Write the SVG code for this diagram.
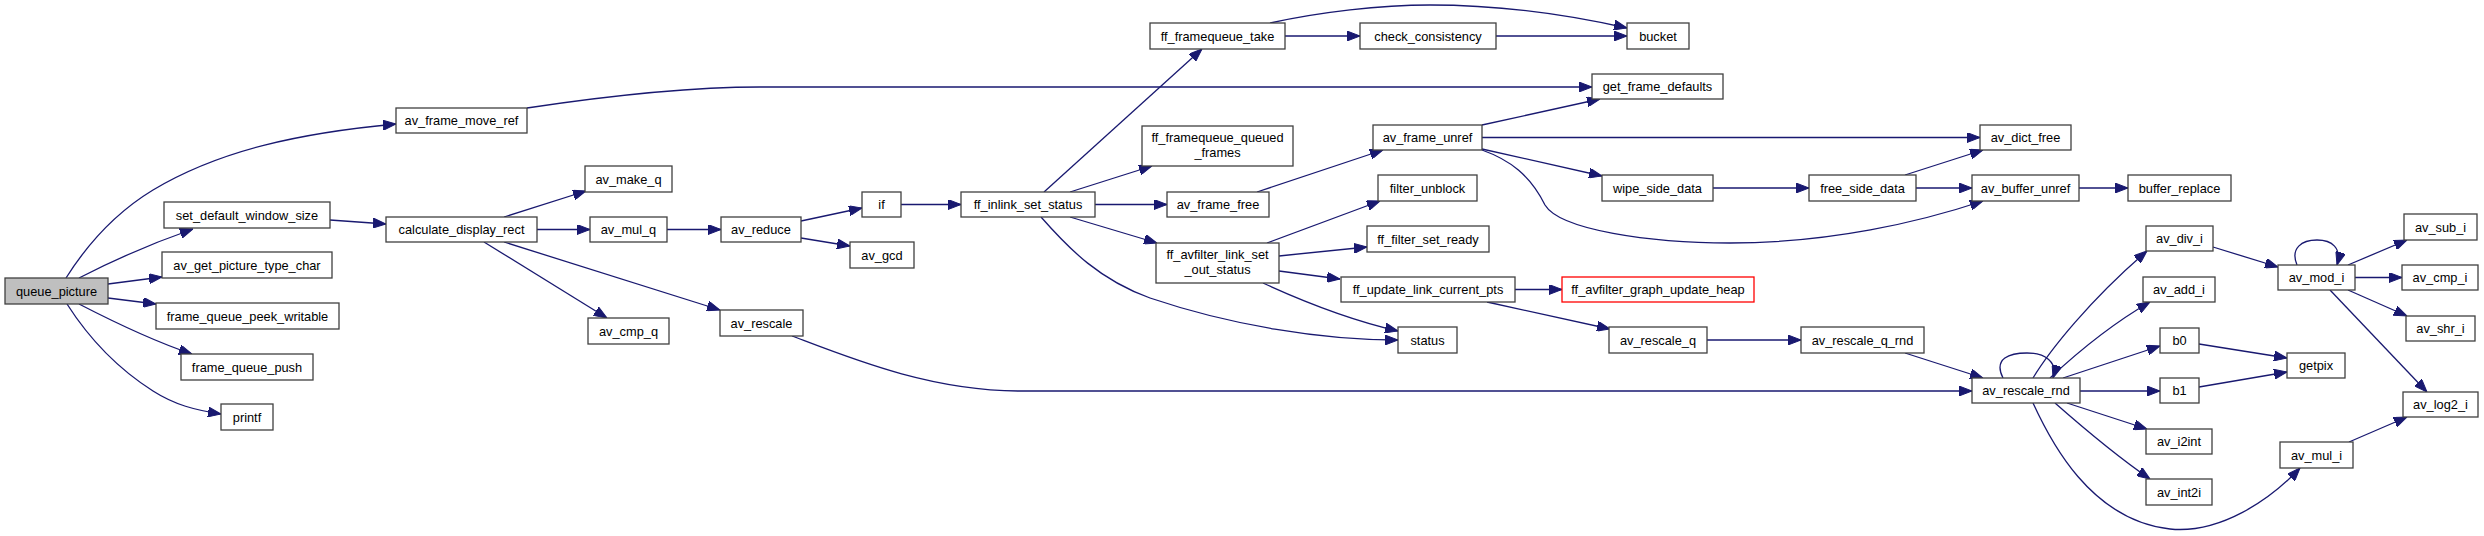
<svg xmlns="http://www.w3.org/2000/svg" width="2484" height="536" viewBox="0 0 2484 536">
<style>
.n rect{fill:#ffffff;stroke:#404040;stroke-width:1.3}
.n text{font-family:"Liberation Sans",Arial,sans-serif;font-size:12.8px;fill:#000;text-anchor:middle}
#queue_picture rect{fill:#bfbfbf}
#ff_avfilter_graph_update_heap rect{stroke:#ff0000}
.e path{fill:none;stroke:#191970;stroke-width:1.3;marker-end:url(#ah)}
</style>
<defs>
<marker id="ah" markerUnits="userSpaceOnUse" markerWidth="13" markerHeight="10" refX="13" refY="5" orient="auto">
<path d="M0,0 L13,5 L0,10 z" fill="#191970" stroke="#191970" stroke-width="1"/>
</marker>
</defs>
<rect width="2484" height="536" fill="#ffffff"/>
<g id="edges" class="e">
<path d="M66,278 C90,240 120,210 153,190 C220,150 300,133 396,124"/>
<path d="M79,278 C110,262 150,244 193,229"/>
<path d="M108,284 L162,277"/>
<path d="M108,298 L156,304"/>
<path d="M79,304 C110,320 150,340 192,354"/>
<path d="M67,304 C90,340 120,370 153,391 C175,405 195,410 221,414"/>
<path d="M527,108 C600,97 680,87 760,87 L1592,87"/>
<path d="M330,220 L386,224"/>
<path d="M504,217 L586,191"/>
<path d="M537,229.5 L590,229.5"/>
<path d="M484,242 L607,318"/>
<path d="M504,242 L720,310"/>
<path d="M792,336 C850,358 930,391 1020,391 L1972,391"/>
<path d="M667,229.5 L721,229.5"/>
<path d="M801,221 L862,208"/>
<path d="M801,238 L850,246"/>
<path d="M901,204.5 L961,204.5"/>
<path d="M1044,192 L1202,49"/>
<path d="M1070,192 L1152,166"/>
<path d="M1095,204.5 L1167,204.5"/>
<path d="M1070,217 L1157,243"/>
<path d="M1041,217 C1070,250 1100,280 1150,298 C1230,325 1320,340 1398,340"/>
<path d="M1285,36 L1360,36"/>
<path d="M1270,23 C1320,12 1380,5 1430,5 C1500,5 1570,15 1627,28"/>
<path d="M1496,36 L1627,36"/>
<path d="M1257,192 L1383,150"/>
<path d="M1482,125 L1600,99"/>
<path d="M1482,137.5 L1980,137.5"/>
<path d="M1482,149 L1602,176"/>
<path d="M1482,150 C1510,160 1530,175 1545,205 C1560,230 1650,243 1730,243 C1830,243 1920,222 1983,201"/>
<path d="M1713,188 L1809,188"/>
<path d="M1905,175 L1983,150"/>
<path d="M1916,188 L1972,188"/>
<path d="M2079,188 L2128,188"/>
<path d="M1267,243 L1380,201"/>
<path d="M1279,256 L1367,247"/>
<path d="M1279,271 L1340,279"/>
<path d="M1263,283 C1300,300 1350,320 1398,331"/>
<path d="M1515,289.5 L1562,289.5"/>
<path d="M1487,302 L1610,329"/>
<path d="M1707,340 L1801,340"/>
<path d="M1905,353 L1983,378"/>
<path d="M2003,378 C1993,358 2010,353 2027,353 C2045,353 2058,362 2053,378"/>
<path d="M2033,378 C2050,350 2090,300 2147,251"/>
<path d="M2050,378 C2080,350 2110,325 2150,302"/>
<path d="M2063,378 L2160,346"/>
<path d="M2080,391 L2160,391"/>
<path d="M2067,403 L2147,429"/>
<path d="M2055,403 C2080,425 2115,455 2150,479"/>
<path d="M2033,403 C2050,440 2090,520 2170,529 C2220,534 2270,500 2300,468"/>
<path d="M2213,247 L2278,267"/>
<path d="M2297,265 C2290,248 2302,240 2317,240 C2332,240 2342,248 2337,265"/>
<path d="M2348,265 L2407,240"/>
<path d="M2355,277.5 L2402,277.5"/>
<path d="M2348,290 L2407,316"/>
<path d="M2330,290 L2427,392"/>
<path d="M2349,442 L2407,417"/>
<path d="M2199,344 L2287,358"/>
<path d="M2199,387 L2287,372"/>
</g>
<g id="queue_picture" class="n"><rect x="5" y="278" width="103" height="26"/><text x="56.5" y="295.5">queue_picture</text></g>
<g id="av_frame_move_ref" class="n"><rect x="396" y="108" width="131" height="25"/><text x="461.5" y="125">av_frame_move_ref</text></g>
<g id="set_default_window_size" class="n"><rect x="164" y="202" width="166" height="26"/><text x="247" y="219.5">set_default_window_size</text></g>
<g id="av_get_picture_type_char" class="n"><rect x="162" y="252" width="170" height="26"/><text x="247" y="269.5">av_get_picture_type_char</text></g>
<g id="frame_queue_peek_writable" class="n"><rect x="156" y="303" width="183" height="26"/><text x="247.5" y="320.5">frame_queue_peek_writable</text></g>
<g id="frame_queue_push" class="n"><rect x="181" y="354" width="132" height="26"/><text x="247" y="371.5">frame_queue_push</text></g>
<g id="printf" class="n"><rect x="221" y="404" width="52" height="26"/><text x="247" y="421.5">printf</text></g>
<g id="calculate_display_rect" class="n"><rect x="386" y="217" width="151" height="25"/><text x="461.5" y="234">calculate_display_rect</text></g>
<g id="av_make_q" class="n"><rect x="585" y="166" width="87" height="26"/><text x="628.5" y="183.5">av_make_q</text></g>
<g id="av_mul_q" class="n"><rect x="590" y="217" width="77" height="25"/><text x="628.5" y="234">av_mul_q</text></g>
<g id="av_cmp_q" class="n"><rect x="588" y="318" width="81" height="26"/><text x="628.5" y="335.5">av_cmp_q</text></g>
<g id="av_rescale" class="n"><rect x="720" y="310" width="83" height="26"/><text x="761.5" y="327.5">av_rescale</text></g>
<g id="av_reduce" class="n"><rect x="721" y="217" width="80" height="25"/><text x="761" y="234">av_reduce</text></g>
<g id="if" class="n"><rect x="862" y="192" width="39" height="25"/><text x="881.5" y="209">if</text></g>
<g id="av_gcd" class="n"><rect x="850" y="242" width="64" height="26"/><text x="882" y="259.5">av_gcd</text></g>
<g id="ff_inlink_set_status" class="n"><rect x="961" y="192" width="134" height="25"/><text x="1028" y="209">ff_inlink_set_status</text></g>
<g id="ff_framequeue_take" class="n"><rect x="1150" y="23" width="135" height="26"/><text x="1217.5" y="40.5">ff_framequeue_take</text></g>
<g id="ff_framequeue_queued_frames" class="n"><rect x="1142" y="126" width="151" height="40"/><text x="1217.5" y="142">ff_framequeue_queued</text><text x="1217.5" y="157">_frames</text></g>
<g id="av_frame_free" class="n"><rect x="1167" y="192" width="102" height="25"/><text x="1218" y="209">av_frame_free</text></g>
<g id="ff_avfilter_link_set_out_status" class="n"><rect x="1156" y="243" width="123" height="40"/><text x="1217.5" y="259">ff_avfilter_link_set</text><text x="1217.5" y="274">_out_status</text></g>
<g id="status" class="n"><rect x="1398" y="327" width="59" height="26"/><text x="1427.5" y="344.5">status</text></g>
<g id="check_consistency" class="n"><rect x="1360" y="23" width="136" height="26"/><text x="1428" y="40.5">check_consistency</text></g>
<g id="bucket" class="n"><rect x="1627" y="23" width="62" height="26"/><text x="1658" y="40.5">bucket</text></g>
<g id="get_frame_defaults" class="n"><rect x="1592" y="74" width="131" height="25"/><text x="1657.5" y="91">get_frame_defaults</text></g>
<g id="av_frame_unref" class="n"><rect x="1373" y="125" width="109" height="25"/><text x="1427.5" y="142">av_frame_unref</text></g>
<g id="filter_unblock" class="n"><rect x="1378" y="175" width="99" height="26"/><text x="1427.5" y="192.5">filter_unblock</text></g>
<g id="ff_filter_set_ready" class="n"><rect x="1367" y="226" width="122" height="26"/><text x="1428" y="243.5">ff_filter_set_ready</text></g>
<g id="wipe_side_data" class="n"><rect x="1602" y="175" width="111" height="26"/><text x="1657.5" y="192.5">wipe_side_data</text></g>
<g id="ff_update_link_current_pts" class="n"><rect x="1341" y="277" width="174" height="25"/><text x="1428" y="294">ff_update_link_current_pts</text></g>
<g id="ff_avfilter_graph_update_heap" class="n"><rect x="1562" y="277" width="192" height="25"/><text x="1658" y="294">ff_avfilter_graph_update_heap</text></g>
<g id="av_rescale_q" class="n"><rect x="1609" y="327" width="98" height="26"/><text x="1658" y="344.5">av_rescale_q</text></g>
<g id="free_side_data" class="n"><rect x="1809" y="175" width="107" height="26"/><text x="1862.5" y="192.5">free_side_data</text></g>
<g id="av_dict_free" class="n"><rect x="1980" y="125" width="91" height="25"/><text x="2025.5" y="142">av_dict_free</text></g>
<g id="av_buffer_unref" class="n"><rect x="1972" y="175" width="107" height="26"/><text x="2025.5" y="192.5">av_buffer_unref</text></g>
<g id="buffer_replace" class="n"><rect x="2128" y="175" width="103" height="26"/><text x="2179.5" y="192.5">buffer_replace</text></g>
<g id="av_rescale_q_rnd" class="n"><rect x="1801" y="327" width="123" height="26"/><text x="1862.5" y="344.5">av_rescale_q_rnd</text></g>
<g id="av_rescale_rnd" class="n"><rect x="1972" y="378" width="108" height="25"/><text x="2026" y="395">av_rescale_rnd</text></g>
<g id="av_div_i" class="n"><rect x="2146" y="226" width="67" height="25"/><text x="2179.5" y="243">av_div_i</text></g>
<g id="av_add_i" class="n"><rect x="2143" y="277" width="72" height="25"/><text x="2179" y="294">av_add_i</text></g>
<g id="b0" class="n"><rect x="2160" y="328" width="39" height="25"/><text x="2179.5" y="345">b0</text></g>
<g id="b1" class="n"><rect x="2160" y="378" width="39" height="25"/><text x="2179.5" y="395">b1</text></g>
<g id="getpix" class="n"><rect x="2287" y="353" width="58" height="25"/><text x="2316" y="370">getpix</text></g>
<g id="av_i2int" class="n"><rect x="2146" y="429" width="66" height="25"/><text x="2179" y="446">av_i2int</text></g>
<g id="av_int2i" class="n"><rect x="2146" y="479" width="66" height="26"/><text x="2179" y="496.5">av_int2i</text></g>
<g id="av_mod_i" class="n"><rect x="2278" y="265" width="77" height="25"/><text x="2316.5" y="282">av_mod_i</text></g>
<g id="av_sub_i" class="n"><rect x="2404" y="214" width="73" height="26"/><text x="2440.5" y="231.5">av_sub_i</text></g>
<g id="av_cmp_i" class="n"><rect x="2402" y="265" width="76" height="25"/><text x="2440" y="282">av_cmp_i</text></g>
<g id="av_shr_i" class="n"><rect x="2406" y="316" width="69" height="25"/><text x="2440.5" y="333">av_shr_i</text></g>
<g id="av_log2_i" class="n"><rect x="2403" y="392" width="75" height="25"/><text x="2440.5" y="409">av_log2_i</text></g>
<g id="av_mul_i" class="n"><rect x="2280" y="442" width="73" height="26"/><text x="2316.5" y="459.5">av_mul_i</text></g>
</svg>
